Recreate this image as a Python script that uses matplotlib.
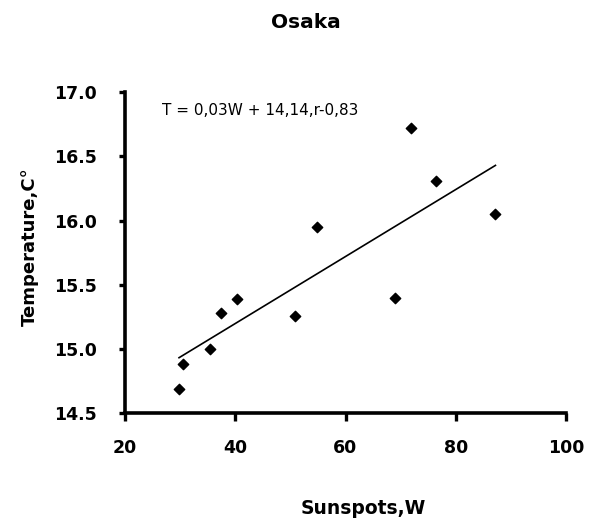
import numpy as np
import matplotlib
matplotlib.use("Agg")
import matplotlib.pyplot as plt

plt.rcParams["font.family"] = ["DejaVu Sans"]

# sunspot numbers (W) and mean temperature (C)
sunspots = [29.8, 30.6, 35.5, 37.4, 40.3, 50.9, 54.9, 69.0, 71.9, 76.4, 87.2]
temps = [14.69, 14.88, 15.00, 15.28, 15.39, 15.26, 15.95, 15.40, 16.72, 16.31, 16.05]

x_ticks = [20, 40, 60, 80, 100]
y_ticks = [14.5, 15.0, 15.5, 16.0, 16.5, 17.0]

W, H = 593, 526
fig = plt.figure(figsize=(W / 100, H / 100), dpi=100)
ax = fig.add_axes([125 / W, 1 - 413 / H, (566 - 125) / W, (413 - 92.3) / H])

ax.scatter(sunspots, temps, marker="D", s=28, color="black", zorder=3)

# linear trend over the observed range
k, b = np.polyfit(sunspots, temps, 1)
xs = np.array([min(sunspots), max(sunspots)])
ax.plot(xs, k * xs + b, color="black", lw=1.2)

ax.text(26.8, 16.86, "T = 0,03W + 14,14,r-0,83", fontsize=11, va="center", ha="left")

ax.set_xlim(20, 100)
ax.set_ylim(14.5, 17.0)
ax.set_xticks(x_ticks)
ax.set_yticks(y_ticks)
ax.set_xticklabels([str(t) for t in x_ticks], fontweight="bold", fontsize=12.5)
ax.set_yticklabels([f"{t:.1f}" for t in y_ticks], fontweight="bold", fontsize=12.5)

for side in ["top", "right"]:
    ax.spines[side].set_visible(False)
for side in ["left", "bottom"]:
    ax.spines[side].set_linewidth(2.6)
ax.tick_params(axis="x", direction="out", length=6, width=2.4, pad=13)
ax.tick_params(axis="y", direction="out", length=4, width=2.4, pad=16)

fig.text(306 / W, 1 - 22 / H, "Osaka", fontsize=14.5, fontweight="bold", ha="center", va="center")
fig.text(363 / W, 1 - 508 / H, "Sunspots,W", fontsize=13.5, fontweight="bold", ha="center", va="center")
fig.text(30 / W, 1 - 247 / H, "Temperature,C°", fontsize=13, fontweight="bold",
         ha="center", va="center", rotation=90)

fig.savefig("out.png", dpi=100)
